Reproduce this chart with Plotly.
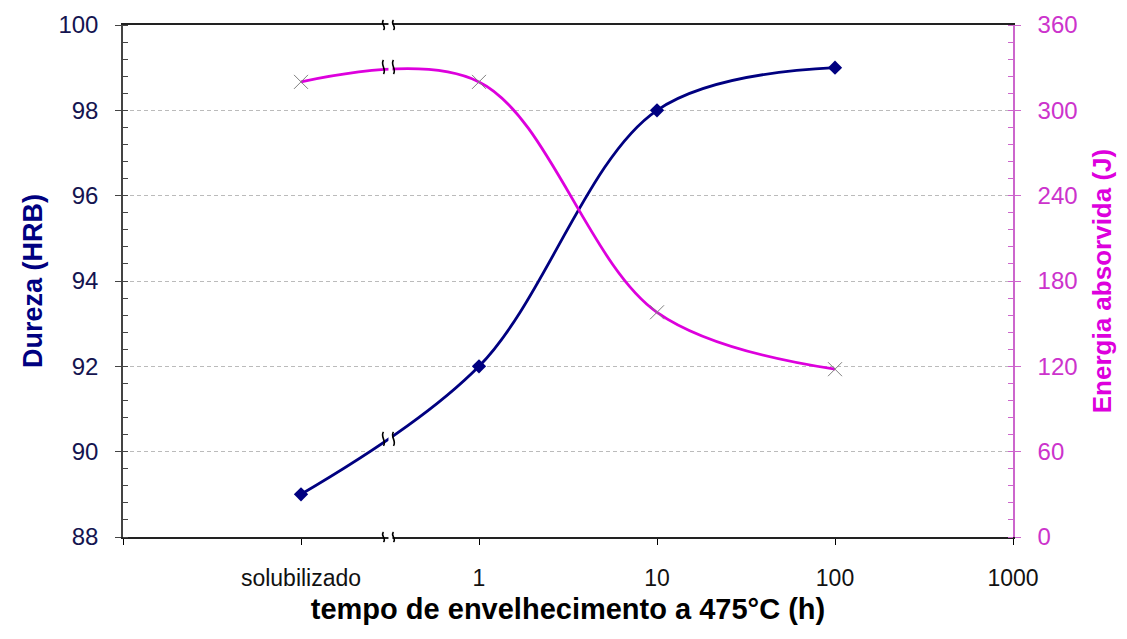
import plotly.graph_objects as go

# ---- data ----
x_pos = [0.1, 1, 10, 100]          # "solubilizado" plotted at 0.1 on the log axis
dureza = [89, 92, 98, 99]          # HRB
energia = [320, 320, 158, 118]     # J

x_tickvals = [0.01, 0.1, 1, 10, 100, 1000]
x_ticktext = ["", "solubilizado", "1", "10", "100", "1000"]

break_x = 0.31
break_dureza = 90.3
break_energia = 330.5

FONT = "Liberation Sans, Arial, sans-serif"
NAVY = "#000080"
MAG = "#DD00DD"

fig = go.Figure()

fig.add_trace(go.Scatter(
    x=x_pos, y=dureza, mode="lines+markers", name="Dureza",
    line=dict(color=NAVY, width=2.8, shape="spline", smoothing=1.0),
    marker=dict(symbol="diamond", size=11, color=NAVY),
    yaxis="y", cliponaxis=False))

fig.add_trace(go.Scatter(
    x=x_pos, y=energia, mode="lines+markers", name="Energia",
    line=dict(color=MAG, width=2.8, shape="spline", smoothing=1.0),
    marker=dict(symbol="x-thin", size=14, color="#808080",
                line=dict(width=1, color="#808080")),
    yaxis="y2", cliponaxis=False))

fig.update_layout(
    width=1127, height=639,
    margin=dict(l=123, r=114, t=25, b=102),
    paper_bgcolor="white", plot_bgcolor="white",
    showlegend=False,
    font=dict(family=FONT),
    xaxis=dict(
        type="log", range=[-2, 3],
        tickvals=x_tickvals, ticktext=x_ticktext,
        ticks="outside", ticklen=6, tickcolor="#000000",
        showline=True, linecolor="#222222", linewidth=1.5, mirror=True,
        showgrid=False, zeroline=False,
        tickfont=dict(size=23, color="#111111"),
        ticklabelstandoff=14,
        title=dict(text="<b>tempo de envelhecimento a 475°C (h)</b>",
                   font=dict(size=29, color="#000000"), standoff=8),
    ),
    yaxis=dict(
        range=[88, 100], dtick=2,
        ticks="outside", ticklen=6, tickcolor="#444444",
        showline=True, linecolor="#444444", linewidth=1.5,
        showgrid=True, gridcolor="#BBBBBB", griddash="4px,3px", gridwidth=1,
        zeroline=False,
        minor=dict(dtick=0.4, ticks="inside", ticklen=5, tickcolor="#444444", showgrid=False),
        tickfont=dict(size=24, color="#141450"),
        ticklabelstandoff=12,
        title=dict(text="<b>Dureza (HRB)</b>", font=dict(size=27, color=NAVY), standoff=8),
    ),
    yaxis2=dict(
        overlaying="y", side="right",
        range=[0, 360], dtick=60,
        ticks="outside", ticklen=6, tickcolor="#CC66CC",
        showline=True, linecolor="#CC66CC", linewidth=1.5,
        showgrid=False, zeroline=False,
        minor=dict(dtick=12, ticks="inside", ticklen=5, tickcolor="#CC66CC", showgrid=False),
        tickfont=dict(size=24, color="#CC33CC"),
        ticklabelstandoff=12,
        title=dict(text="<b>Energia absorvida (J)</b>", font=dict(size=26, color=MAG), standoff=16),
    ),
)


def add_break(yref, yanchor, h):
    common = dict(xref="x", xsizemode="pixel", xanchor=break_x,
                  yref=yref, ysizemode="pixel", yanchor=yanchor, layer="above")
    # white gap interrupting the line
    fig.add_shape(type="rect", x0=-4, x1=4, y0=-h - 1, y1=h + 1,
                  fillcolor="white", line=dict(width=0), **common)
    w = 3.5
    for dx in (-5, 5):
        path = (f"M {dx},{-h} C {dx + w},{-h / 3} {dx - w},{h / 3} {dx},{h}")
        fig.add_shape(type="path", path=path,
                      line=dict(color="#000000", width=1.6), **common)


add_break("paper", 1, 5)
add_break("paper", 0, 5)
add_break("y", break_dureza, 7)
add_break("y2", break_energia, 7)

fig.write_html("out.html")
